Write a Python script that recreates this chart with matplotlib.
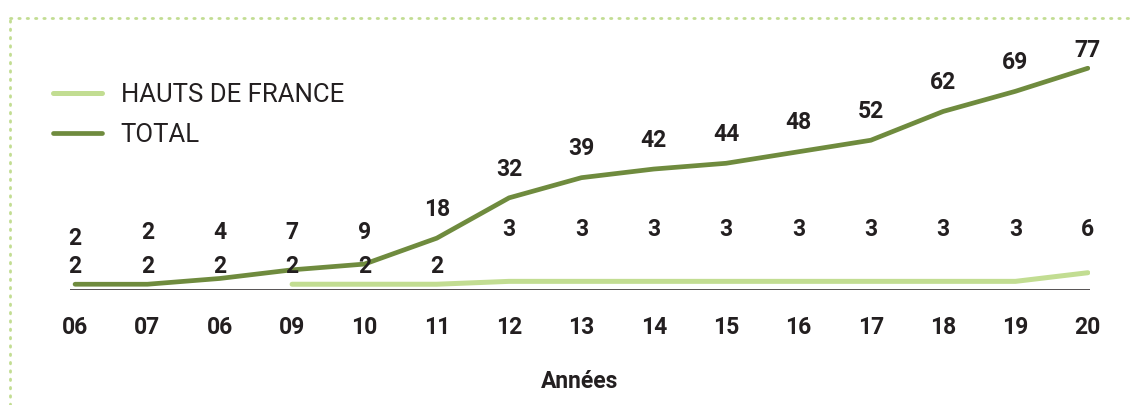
import numpy as np
import matplotlib.pyplot as plt
from matplotlib.lines import Line2D

years = ['06', '07', '06', '09', '10', '11', '12', '13', '14', '15', '16', '17', '18', '19', '20']
total = [2, 2, 4, 7, 9, 18, 32, 39, 42, 44, 48, 52, 62, 69, 77]
hdf = [2, 2, 2, 2, 2, 2, 3, 3, 3, 3, 3, 3, 3, 3, 6]
hdf_start = 3  # the light line only shows from 09 on

dark = '#6f8b3e'
light = '#c2dd92'
ink = '#231f20'

plt.rcParams['font.family'] = ['Roboto', 'DejaVu Sans']

fig = plt.figure(figsize=(11.34, 4.05), dpi=100)
ax = fig.add_axes([70 / 1134, 1 - 290 / 405, 1020 / 1134, 250 / 405])
x = np.arange(len(years))

ax.plot(x[hdf_start:], hdf[hdf_start:], color=light, lw=3.6, solid_capstyle='round',
        label='HAUTS DE FRANCE', zorder=2)
ax.plot(x, total, color=dark, lw=3.4, solid_capstyle='round', label='TOTAL', zorder=3)
ax.axhline(0, color=ink, lw=1.8, zorder=1)

# value labels
for i in x:
    hy = 8 if i < 6 else 21
    ty = max(total[i] + 10, hy + 10, 20 if i > 0 else 0)
    ax.text(i, hy, str(hdf[i]), ha='center', va='center', fontsize=16.5,
            fontweight='bold', color=ink)
    ax.text(i, min(ty, 83), str(total[i]), ha='center', va='center', fontsize=16.5,
            fontweight='bold', color=ink)

ax.set_xlim(-0.07, 14.03)
ax.set_ylim(0, 250 / 2.88)
ax.set_xticks(x)
ax.set_xticklabels(years, fontsize=16.5, fontweight='bold', color=ink)
ax.tick_params(axis='x', length=0, pad=19)
ax.set_yticks([])
for s in ax.spines.values():
    s.set_visible(False)
ax.set_xlabel('Années', fontsize=16.5, fontweight='bold', color=ink, labelpad=22)

leg = ax.legend(loc='upper left', bbox_to_anchor=(-0.027, 0.868), frameon=False,
                fontsize=18.5, handlelength=1.9, handletextpad=0.75, labelspacing=0.6,
                borderaxespad=0)
for t in leg.get_texts():
    t.set_color(ink)

# dotted frame
fig.add_artist(Line2D([10 / 1134, 1], [1 - 18 / 405, 1 - 18 / 405], color=light,
                      lw=2, linestyle=(0, (0.5, 2.5)), dash_capstyle='round'))
fig.add_artist(Line2D([10 / 1134, 10 / 1134], [0, 1 - 18 / 405], color=light,
                      lw=2, linestyle=(0, (0.5, 2.5)), dash_capstyle='round'))

fig.savefig('out.png', dpi=100)
